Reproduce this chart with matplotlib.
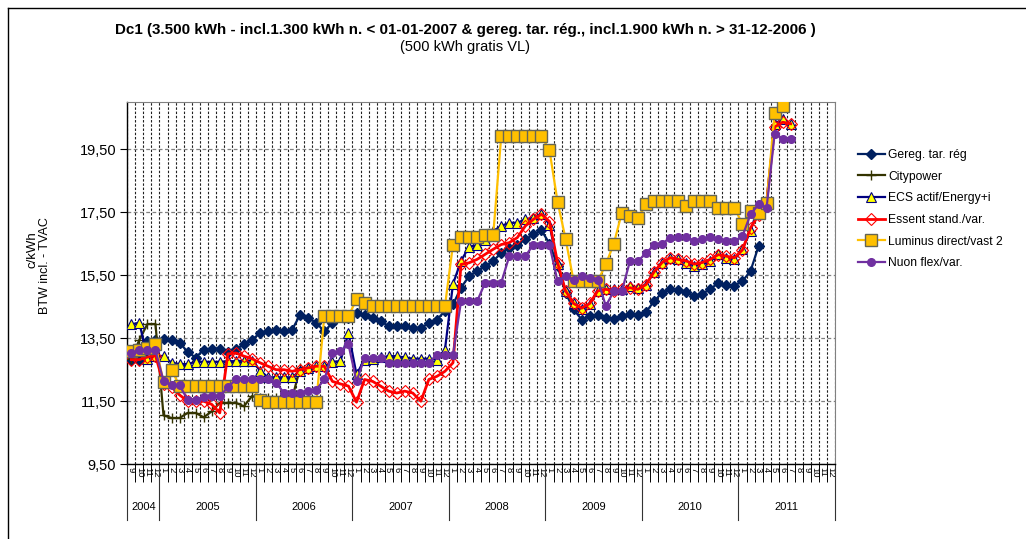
import numpy as np
import matplotlib
matplotlib.use("Agg")
import matplotlib.pyplot as plt
from matplotlib.lines import Line2D
from matplotlib.ticker import FuncFormatter

plt.rcParams["font.family"] = ["Liberation Sans", "DejaVu Sans"]

# ---------------------------------------------------------
# Data (c/kWh, monthly, 2004-09 .. 2011-12)
# ---------------------------------------------------------

month_labels = ["9", "10", "11", "12"] + [str(m) for m in range(1, 13)] * 7
year_labels = ["2004", "2005", "2006", "2007", "2008", "2009", "2010", "2011"]
year_months = [4, 12, 12, 12, 12, 12, 12, 12]

gereg = [12.82, 12.82, 13.40, 13.45, 13.46, 13.43, 13.35, 13.07, 12.88, 13.14,
         13.17, 13.17, 13.07, 13.15, 13.30, 13.45, 13.66, 13.72, 13.77, 13.72,
         13.77, 14.25, 14.14, 13.98, 13.72, 13.98, 14.25, 14.14, 14.30, 14.25,
         14.14, 14.04, 13.88, 13.88, 13.88, 13.83, 13.81, 13.99, 14.09, 14.36,
         14.57, 15.10, 15.47, 15.63, 15.79, 15.94, 16.21, 16.37, 16.47, 16.63,
         16.79, 16.92, 16.50, 15.80, 14.94, 14.41, 14.09, 14.20, 14.25, 14.14,
         14.11, 14.20, 14.27, 14.22, 14.33, 14.67, 14.94, 15.05, 15.02, 14.97,
         14.83, 14.91, 15.05, 15.26, 15.18, 15.17, 15.31, 15.63, 16.42]

citypower = [12.85, 13.45, 13.95, 13.95, 11.05, 10.97, 10.97, 11.13, 11.13, 10.99,
             11.18, 11.45, 11.45, 11.45, 11.34, 11.66, 11.60, 11.60, 11.60, 11.55,
             11.60, 12.56, 12.56, 12.60]

ecs = [13.94, 13.99, 12.85, 12.95, 12.93, 12.72, 12.68, 12.68, 12.75, 12.75,
       12.75, 12.75, 12.77, 12.77, 12.79, 12.79, 12.47, 12.26, 12.26, 12.26,
       12.26, 12.47, 12.56, 12.61, 12.61, 12.75, 12.77, 13.67, 12.35, 12.82,
       12.85, 12.89, 12.93, 12.93, 12.89, 12.85, 12.85, 12.85, 12.82, 13.14,
       15.22, 15.95, 16.40, 16.45, 16.60, 16.90, 17.06, 17.16, 17.16, 17.27,
       17.32, 17.45, 17.10, 15.84, 15.00, 14.62, 14.41, 14.57, 15.00, 15.05,
       15.05, 15.05, 15.15, 15.10, 15.20, 15.60, 15.90, 16.05, 16.00, 15.90,
       15.80, 15.85, 15.94, 16.16, 16.05, 16.00, 16.32, 16.90, 17.69, 17.85,
       20.30, 20.45, 20.30]

essent = [12.82, 12.82, 12.90, 12.95, 12.05, 11.95, 11.70, 11.50, 11.50, 11.50,
          11.40, 11.13, 13.00, 13.03, 12.93, 12.85, 12.72, 12.61, 12.50, 12.50,
          12.45, 12.50, 12.56, 12.61, 12.61, 12.13, 12.05, 11.98, 11.47, 12.19,
          12.13, 11.98, 11.82, 11.76, 11.82, 11.76, 11.50, 12.19, 12.29, 12.45,
          12.72, 15.84, 15.89, 16.00, 16.16, 16.32, 16.47, 16.53, 16.69, 17.06,
          17.27, 17.43, 17.20, 15.90, 15.00, 14.60, 14.45, 14.60, 15.00, 15.05,
          15.00, 15.05, 15.10, 15.05, 15.20, 15.60, 15.90, 16.05, 16.00, 15.95,
          15.85, 15.90, 16.00, 16.15, 16.10, 16.05, 16.30, 17.00, 17.40, 17.80,
          20.20, 20.35, 20.30]

luminus = [13.09, 13.14, 13.20, 13.30, 12.10, 12.50, 11.98, 11.98, 11.98, 11.98,
           11.98, 11.98, 11.98, 11.98, 11.98, 11.98, 11.55, 11.48, 11.48, 11.48,
           11.48, 11.48, 11.48, 11.48, 14.20, 14.20, 14.20, 14.20, 14.73, 14.62,
           14.52, 14.52, 14.52, 14.52, 14.52, 14.52, 14.52, 14.52, 14.52, 14.52,
           16.47, 16.71, 16.71, 16.71, 16.77, 16.77, 19.91, 19.91, 19.91, 19.91,
           19.91, 19.91, 19.46, 17.83, 16.65, 15.31, 15.31, 15.31, 15.31, 15.84,
           16.50, 17.48, 17.37, 17.32, 17.74, 17.85, 17.85, 17.85, 17.85, 17.69,
           17.86, 17.86, 17.86, 17.64, 17.64, 17.64, 17.11, 17.53, 17.48, 17.80,
           20.65, 20.85]

nuon = [13.03, 13.11, 13.11, 13.11, 12.15, 12.00, 12.00, 11.55, 11.55, 11.63,
        11.66, 11.66, 11.94, 12.19, 12.19, 12.19, 12.19, 12.19, 12.08, 11.76,
        11.76, 11.76, 11.84, 11.87, 12.19, 13.03, 13.09, 13.30, 12.13, 12.87,
        12.87, 12.87, 12.72, 12.72, 12.72, 12.72, 12.72, 12.72, 12.98, 12.98,
        12.98, 14.67, 14.67, 14.67, 15.26, 15.26, 15.26, 16.10, 16.10, 16.10,
        16.47, 16.47, 16.45, 15.31, 15.47, 15.36, 15.47, 15.42, 15.36, 14.52,
        14.99, 14.99, 15.94, 15.94, 16.20, 16.45, 16.49, 16.69, 16.71, 16.71,
        16.58, 16.63, 16.71, 16.63, 16.58, 16.58, 16.74, 17.43, 17.74, 17.64,
        19.99, 19.83, 19.83]

n_months = len(month_labels)

# ---------------------------------------------------------
# Figure
# ---------------------------------------------------------

fig = plt.figure(figsize=(10.26, 5.39), dpi=100)
ax = fig.add_axes([0.1241, 0.1386, 0.6897, 0.6727])

# outer chart frame (left + top edges visible)
fig.add_artist(Line2D([8 / 1026, 8 / 1026], [0, 1 - 8 / 539], color="black", lw=1.0))
fig.add_artist(Line2D([8 / 1026, 1], [1 - 8 / 539, 1 - 8 / 539], color="black", lw=1.0))


def draw(values, label, color, marker, ms, mfc, mec, lw=1.6, mew=1.0):
    x = np.arange(len(values)) + 0.5
    return ax.plot(x, values, color=color, lw=lw, marker=marker, ms=ms,
                   mfc=mfc, mec=mec, mew=mew, label=label, zorder=3)[0]


draw(gereg, "Gereg. tar. rég", "#002060", "D", 5.5, "#002060", "#002060")
draw(citypower, "Citypower", "#333300", "+", 7, "#333300", "#333300")
draw(ecs, "ECS actif/Energy+i", "#000080", "^", 7.5, "#FFFF00", "#000080", mew=0.8)
draw(essent, "Essent stand./var.", "#FF0000", "D", 6, "none", "#FF0000", lw=2.0, mew=0.8)
draw(luminus, "Luminus direct/vast 2", "#FFC000", "s", 8.5, "#FFC000", "#666655", mew=1.0)
draw(nuon, "Nuon flex/var.", "#7030A0", "o", 5.5, "#7030A0", "#7030A0")

# ---------------------------------------------------------
# Axes styling
# ---------------------------------------------------------

ax.set_xlim(0, n_months)
ax.set_ylim(9.5, 21.0)

ax.set_yticks(np.arange(9.5, 20.0, 2.0))
ax.yaxis.set_major_formatter(FuncFormatter(lambda v, p: f"{v:.2f}".replace(".", ",")))
ax.tick_params(axis="y", direction="out", length=5, width=0.8, labelsize=10.5, pad=3)

ax.set_xticks(np.arange(0, n_months + 1))
ax.set_xticklabels([])
ax.set_xticks(np.arange(n_months) + 0.5, minor=True)
ax.set_xticklabels(month_labels, minor=True, rotation=-90, fontsize=6.8)
ax.tick_params(axis="x", which="major", direction="out", length=13, width=0.7)
ax.tick_params(axis="x", which="minor", length=0, pad=2)

ax.set_axisbelow(True)
ax.xaxis.grid(True, which="major", linestyle=(0, (2.2, 1.6)), color="#202020", lw=0.8)
ax.yaxis.grid(True, linestyle=(0, (3, 2)), color="#808080", lw=0.9)

for side in ["top", "right"]:
    ax.spines[side].set_color("#808080")
for side in ["left", "bottom"]:
    ax.spines[side].set_color("black")
    ax.spines[side].set_linewidth(1.0)

# year level of the category axis
trans = ax.get_xaxis_transform()
edges = np.concatenate([[0], np.cumsum(year_months)])
for e in edges:
    ax.plot([e, e], [0, -0.155], transform=trans, color="#333333", lw=0.8, clip_on=False)
for k, yr in enumerate(year_labels):
    ax.text((edges[k] + edges[k + 1]) / 2, -0.118, yr, transform=trans,
            ha="center", va="center", fontsize=8)

# y axis title (two lines)
fig.text(32 / 1026, 1 - 250 / 539, "c/kWh", rotation=90, ha="center", va="center", fontsize=9.5)
fig.text(45 / 1026, 1 - 266 / 539, "BTW incl. - TVAC", rotation=90, ha="center", va="center", fontsize=9)

# titles
fig.text(465 / 1026, 1 - 30 / 539,
         "Dc1 (3.500 kWh - incl.1.300 kWh n. < 01-01-2007 & gereg. tar. rég., "
         "incl.1.900 kWh n. > 31-12-2006 )",
         ha="center", va="center", fontsize=10.9, fontweight="bold",
         family=["Liberation Sans Narrow", "Liberation Sans", "DejaVu Sans"])
fig.text(465 / 1026, 1 - 47 / 539, "(500 kWh gratis VL)", ha="center", va="center",
         fontsize=10.5, family=["Liberation Sans Narrow", "Liberation Sans", "DejaVu Sans"])

# legend
fig.legend(loc="upper left", bbox_to_anchor=(858 / 1026, 1 - 149 / 539), frameon=False,
           fontsize=8.7, handlelength=2.2, handletextpad=0.3, labelspacing=0.8,
           borderaxespad=0, borderpad=0)

fig.savefig("out.png", dpi=100)
